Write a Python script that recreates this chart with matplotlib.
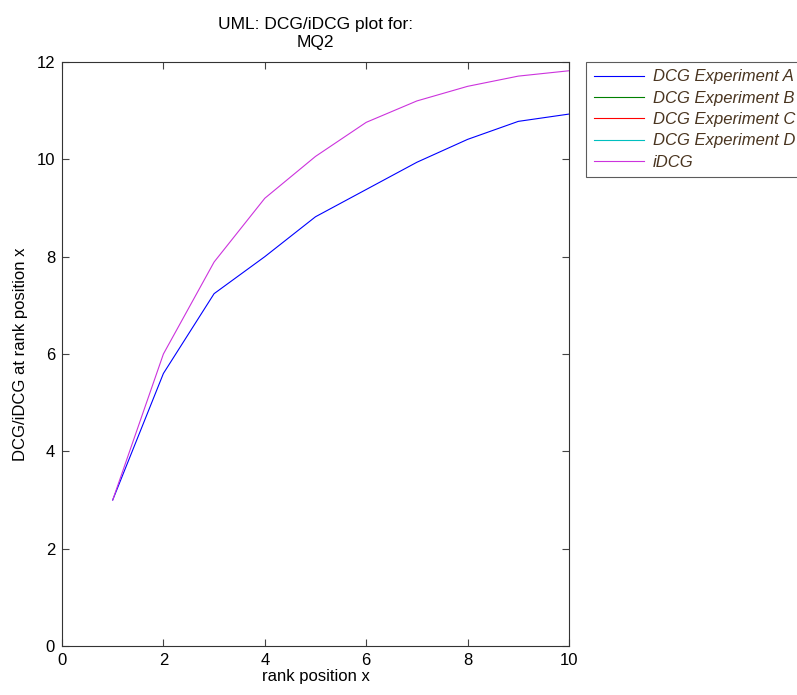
import matplotlib.pyplot as plt
import numpy as np

plt.rcParams['font.family'] = ['Liberation Sans', 'DejaVu Sans']

rank = np.arange(1, 11)
dcg_a = [3.0, 5.6, 7.24, 8.0, 8.82, 9.38, 9.94, 10.41, 10.78, 10.93]
idcg = [3.0, 6.0, 7.89, 9.2, 10.06, 10.76, 11.2, 11.5, 11.71, 11.82]
# B, C and D show no visible curve in the original
dcg_b = []
dcg_c = []
dcg_d = []

labels = ['DCG Experiment A', 'DCG Experiment B', 'DCG Experiment C',
          'DCG Experiment D', 'iDCG']
series = [dcg_a, dcg_b, dcg_c, dcg_d, idcg]
colors = ['#0000ff', '#008000', '#ff0000', '#00bfbf', '#cc33dd']

fig = plt.figure(figsize=(7.97, 6.95), dpi=100)
ax = fig.add_axes([62 / 797, 49 / 695, 507 / 797, 584 / 695])

lines = []
for vals, col, lab in zip(series, colors, labels):
    ln, = ax.plot(rank[:len(vals)], vals, color=col, linewidth=0.8, label=lab)
    lines.append(ln)

ax.set_xlim(0, 10)
ax.set_ylim(0, 12)
ax.set_xticks(range(0, 11, 2))
ax.set_yticks(range(0, 13, 2))
ax.tick_params(direction='in', top=True, right=True, labelsize=12, length=5,
               color='#444444', pad=5)
for sp in ax.spines.values():
    sp.set_linewidth(0.8)
    sp.set_color('#333333')

ax.set_xlabel('rank position x', fontsize=12, labelpad=1)
ax.set_ylabel('DCG/iDCG at rank position x', fontsize=12, labelpad=6)
ax.set_title('UML: DCG/iDCG plot for:\nMQ2', fontsize=12.5, pad=11, linespacing=1.25)

leg = fig.legend(handles=lines, loc='upper left',
                 bbox_to_anchor=(586 / 797, 1 - 62 / 695),
                 fontsize=12, frameon=True, fancybox=False, edgecolor='#333333',
                 handlelength=3.0, handletextpad=0.55, labelspacing=0.38,
                 borderpad=0.45, borderaxespad=0)
leg.get_frame().set_linewidth(0.8)
for t in leg.get_texts():
    t.set_color('#4a3520')
    t.set_fontstyle('italic')

fig.savefig('out.png', dpi=100)
